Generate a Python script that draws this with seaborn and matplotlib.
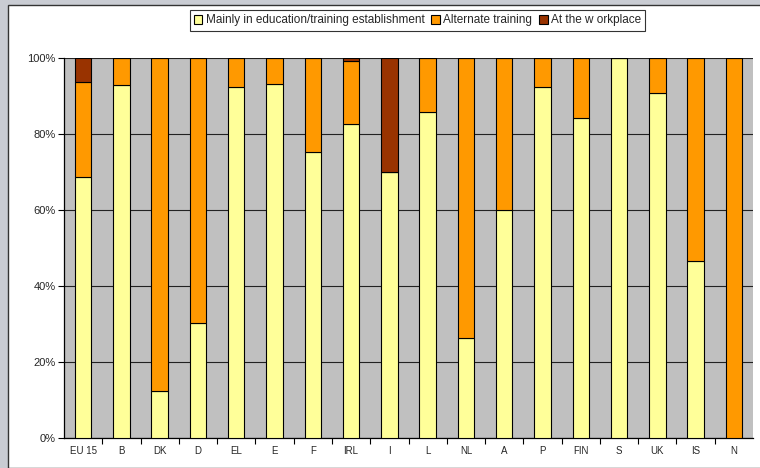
import matplotlib
matplotlib.use("Agg")
import matplotlib.pyplot as plt
import matplotlib.patches as mpatches
import seaborn as sns
import numpy as np
import pandas as pd

countries = ["EU 15", "B", "DK", "D", "EL", "E", "F", "IRL", "I", "L",
             "NL", "A", "P", "FIN", "S", "UK", "IS", "N"]
education = [68.8, 92.8, 12.4, 30.2, 92.5, 93.2, 75.3, 82.6, 70.1, 85.9,
             26.3, 60.0, 92.5, 84.2, 100.0, 90.8, 46.7, 0.0]
alternate = [25.0, 7.2, 87.6, 69.8, 7.5, 6.8, 24.7, 16.5, 0.0, 14.1,
             73.7, 40.0, 7.5, 15.8, 0.0, 9.2, 53.3, 100.0]
workplace = [6.2, 0.0, 0.0, 0.0, 0.0, 0.0, 0.0, 0.9, 29.9, 0.0,
             0.0, 0.0, 0.0, 0.0, 0.0, 0.0, 0.0, 0.0]
series_names = ["Mainly in education/training establishment",
                "Alternate training", "At the w orkplace"]
yticks = [0, 20, 40, 60, 80, 100]

colors = ["#ffff99", "#ff9900", "#993300"]

sns.set_style("white")
plt.rcParams["font.family"] = ["Liberation Sans", "DejaVu Sans"]

fig = plt.figure(figsize=(7.6, 4.68), dpi=100)
fig.patch.set_facecolor("#c9ccd3")
# white chart area
fig.patches.append(mpatches.Rectangle((7.5 / 760, 0), 1, (468 - 5) / 468,
                                      transform=fig.transFigure,
                                      facecolor="white", edgecolor="#333333",
                                      linewidth=1.0, zorder=-5))

ax = fig.add_axes([64 / 760, 30 / 468, (753 - 64) / 760, (438 - 58) / 468])
ax.set_zorder(2)
ax.set_facecolor("#c0c0c0")

df = pd.DataFrame({"country": countries, "edu": education,
                   "alt": alternate, "work": workplace})
edu = np.array(education)
alt = np.array(alternate)
work = np.array(workplace)

sns.barplot(data=df, x="country", y="edu", color=colors[0], width=0.43,
            edgecolor="black", linewidth=0.8, saturation=1, ax=ax, zorder=3)
sns.barplot(data=df, x="country", y="alt", bottom=edu, color=colors[1],
            width=0.43, edgecolor="black", linewidth=0.8, saturation=1,
            ax=ax, zorder=3)
sns.barplot(data=df, x="country", y="work", bottom=edu + alt, color=colors[2],
            width=0.43, edgecolor="black", linewidth=0.8, saturation=1,
            ax=ax, zorder=3)

ax.set_xlim(-0.5, len(countries) - 0.5)
ax.set_ylim(0, 100)
ax.set_yticks(yticks)
ax.set_yticklabels([f"{v}%" for v in yticks], fontsize=8)
ax.yaxis.grid(True, color="#222222", linewidth=0.8, zorder=1)
ax.set_axisbelow(True)
ax.tick_params(axis="y", direction="out", length=4, width=0.8, color="black",
               left=True, pad=2)
ax.set_xticks(range(len(countries)))
ax.set_xticklabels(countries, fontsize=7)
ax.tick_params(axis="x", which="major", length=0, pad=6)
ax.set_xticks(np.arange(0.5, len(countries) - 0.5, 1), minor=True)
ax.tick_params(axis="x", which="minor", direction="out", length=4,
               width=0.8, color="black", bottom=True)
ax.set_xlabel("")
ax.set_ylabel("")
for s in ["top", "right"]:
    ax.spines[s].set_visible(False)
for s in ["left", "bottom"]:
    ax.spines[s].set_color("black")
    ax.spines[s].set_linewidth(0.9)

handles = [mpatches.Patch(facecolor=c, edgecolor="black", linewidth=0.8)
           for c in colors]
leg = fig.legend(handles, series_names, loc="center",
                 bbox_to_anchor=(417.5 / 760, 1 - 20.5 / 468), ncol=3,
                 fontsize=8.5, frameon=True, fancybox=False,
                 edgecolor="black", handlelength=0.7, handleheight=0.7,
                 handletextpad=0.3, columnspacing=0.6, borderpad=0.35)
leg.get_frame().set_linewidth(0.8)

fig.savefig("out.png", dpi=100, facecolor=fig.get_facecolor())
